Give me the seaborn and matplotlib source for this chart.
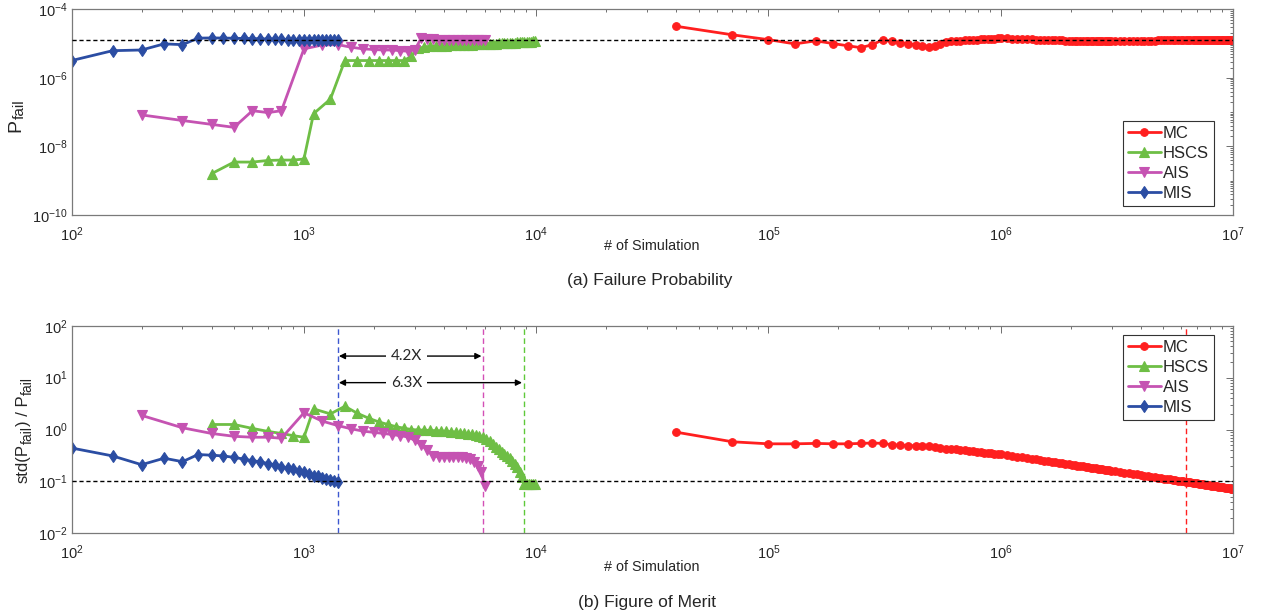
import numpy as np
import pandas as pd
import matplotlib
matplotlib.use("Agg")
import matplotlib.pyplot as plt
from matplotlib import font_manager
from matplotlib.ticker import LogLocator, NullFormatter
import seaborn as sns

# ---------------- data ----------------
series_names = ["MC", "HSCS", "AIS", "MIS"]

mis_n = list(range(100, 1401, 50))
mis_pfail = [3.2e-6, 6.2e-6, 6.5e-6, 9.8e-6, 9.3e-6, 1.44e-5, 1.46e-5, 1.45e-5, 1.43e-5,
             1.41e-5, 1.40e-5, 1.38e-5, 1.36e-5, 1.34e-5, 1.32e-5, 1.31e-5, 1.30e-5,
             1.29e-5, 1.28e-5, 1.27e-5, 1.27e-5, 1.27e-5, 1.28e-5, 1.28e-5, 1.28e-5,
             1.29e-5, 1.29e-5]
mis_fom = [0.44, 0.31, 0.21, 0.28, 0.24, 0.33, 0.32, 0.31, 0.29, 0.27, 0.25, 0.24, 0.22,
           0.21, 0.19, 0.18, 0.17, 0.16, 0.15, 0.14, 0.13, 0.125, 0.118, 0.112, 0.107,
           0.103, 0.099]

ais_n = [200, 300, 400, 500, 600, 700, 800] + list(range(1000, 6001, 200))
ais_pfail = [8.3e-8, 5.7e-8, 4.4e-8, 3.6e-8, 1.1e-7, 9.7e-8, 1.1e-7,
             7.0e-6, 9.1e-6, 9.3e-6, 7.8e-6, 7.0e-6, 6.7e-6, 6.5e-6, 6.5e-6, 6.2e-6,
             6.0e-6, 6.5e-6, 1.45e-5, 1.40e-5, 1.35e-5, 1.30e-5, 1.27e-5, 1.25e-5,
             1.24e-5, 1.24e-5, 1.25e-5, 1.25e-5, 1.24e-5, 1.24e-5, 1.25e-5, 1.25e-5,
             1.25e-5]
ais_fom = [1.87, 1.08, 0.84, 0.74, 0.71, 0.71, 0.68,
           2.1, 1.45, 1.19, 1.03, 0.93, 0.88, 0.84, 0.80, 0.76, 0.72, 0.62, 0.50, 0.40,
           0.31, 0.30, 0.30, 0.30, 0.30, 0.29, 0.29, 0.28, 0.27, 0.24, 0.20, 0.15, 0.08]

hscs_n = [400, 500, 600, 700, 800, 900, 1000] + list(range(1100, 9901, 200))
hscs_pfail = [1.6e-9, 3.5e-9, 3.5e-9, 3.9e-9, 4.0e-9, 4.0e-9, 4.3e-9,
              9.0e-8, 2.4e-7, 3.2e-6, 3.2e-6, 3.2e-6, 3.2e-6, 3.2e-6, 3.2e-6, 3.2e-6,
              4.3e-6, 7.2e-6, 8.0e-6, 8.3e-6, 8.5e-6, 8.6e-6, 8.7e-6, 8.8e-6, 8.9e-6,
              9.0e-6, 9.1e-6, 9.2e-6, 9.3e-6, 9.4e-6, 9.5e-6, 9.6e-6, 9.7e-6, 9.8e-6,
              9.9e-6, 1.0e-5, 1.01e-5, 1.02e-5, 1.03e-5, 1.04e-5, 1.05e-5, 1.06e-5,
              1.07e-5, 1.08e-5, 1.09e-5, 1.10e-5, 1.11e-5, 1.12e-5, 1.13e-5, 1.14e-5,
              1.15e-5, 1.16e-5]
hscs_fom = [1.25, 1.25, 1.05, 0.92, 0.84, 0.76, 0.71,
            2.5, 2.0, 2.8, 2.05, 1.65, 1.4, 1.25, 1.13, 1.06, 1.0,
            0.98, 0.97, 0.96, 0.95, 0.94, 0.92, 0.91, 0.89, 0.87, 0.85,
            0.83, 0.81, 0.78, 0.75, 0.71, 0.65, 0.59, 0.53, 0.47, 0.42,
            0.37, 0.34, 0.31, 0.28, 0.25, 0.22, 0.19, 0.15, 0.12, 0.09,
            0.09, 0.09, 0.09, 0.09, 0.09]

mc_n = (list(range(40000, 1000001, 30000)) + list(range(1060000, 3000001, 60000))
        + list(range(3100000, 10000001, 150000)))
mc_pfail = [3.2e-5, 1.8e-5, 1.3e-5, 9.8e-6, 1.2e-5, 1.0e-5, 8.6e-6, 7.6e-6, 9.3e-6,
            1.28e-5, 1.15e-5, 1.05e-5, 9.9e-6, 9.2e-6, 8.5e-6, 7.9e-6, 8.7e-6, 1.0e-5,
            1.08e-5, 1.15e-5, 1.2e-5, 1.22e-5, 1.25e-5, 1.27e-5, 1.29e-5, 1.31e-5,
            1.33e-5, 1.35e-5, 1.36e-5, 1.38e-5, 1.40e-5, 1.42e-5, 1.45e-5,
            # 1.06e6 .. 2.98e6
            1.42e-5, 1.40e-5, 1.38e-5, 1.36e-5, 1.35e-5, 1.33e-5, 1.31e-5, 1.30e-5,
            1.28e-5, 1.27e-5, 1.26e-5, 1.25e-5, 1.24e-5, 1.23e-5, 1.22e-5, 1.21e-5,
            1.20e-5, 1.20e-5, 1.19e-5, 1.19e-5, 1.18e-5, 1.18e-5, 1.17e-5, 1.17e-5,
            1.17e-5, 1.16e-5, 1.16e-5, 1.16e-5, 1.16e-5, 1.15e-5, 1.15e-5, 1.15e-5,
            1.15e-5,
            # 3.1e6 .. 1e7
            1.15e-5, 1.15e-5, 1.16e-5, 1.16e-5, 1.17e-5, 1.18e-5, 1.19e-5, 1.20e-5,
            1.21e-5, 1.22e-5, 1.22e-5, 1.23e-5, 1.23e-5, 1.24e-5, 1.24e-5, 1.25e-5,
            1.25e-5, 1.25e-5, 1.26e-5, 1.26e-5, 1.27e-5, 1.26e-5, 1.26e-5, 1.27e-5,
            1.26e-5, 1.25e-5, 1.26e-5, 1.26e-5, 1.27e-5, 1.27e-5, 1.26e-5, 1.26e-5,
            1.27e-5, 1.27e-5, 1.26e-5, 1.26e-5, 1.27e-5, 1.27e-5, 1.27e-5, 1.26e-5,
            1.26e-5, 1.27e-5, 1.27e-5, 1.27e-5, 1.27e-5, 1.27e-5, 1.27e-5]
mc_fom = [0.89, 0.58, 0.53, 0.53, 0.54, 0.53, 0.53, 0.54, 0.55, 0.54, 0.51, 0.50, 0.49,
          0.486, 0.48, 0.475, 0.47, 0.45, 0.43, 0.43, 0.42, 0.41, 0.40, 0.39, 0.38,
          0.375, 0.37, 0.36, 0.355, 0.35, 0.345, 0.34, 0.335,
          # 1.06e6 .. 2.98e6
          0.322, 0.311, 0.300, 0.290, 0.281, 0.273, 0.265, 0.258, 0.251, 0.245, 0.239,
          0.233, 0.228, 0.223, 0.218, 0.214, 0.210, 0.206, 0.202, 0.198, 0.194, 0.191,
          0.188, 0.185, 0.182, 0.179, 0.176, 0.174, 0.171, 0.169, 0.166, 0.164, 0.162,
          # 3.1e6 .. 1e7
          0.157, 0.153, 0.148, 0.144, 0.140, 0.136, 0.133, 0.130, 0.127, 0.124, 0.121,
          0.1185, 0.116, 0.1138, 0.1116, 0.1094, 0.1075, 0.1056, 0.1037, 0.102, 0.1003,
          0.0987, 0.0971, 0.0956, 0.0942, 0.0928, 0.0915, 0.0902, 0.0890, 0.0878,
          0.0866, 0.0855, 0.0844, 0.0833, 0.0823, 0.0813, 0.0804, 0.0794, 0.0785,
          0.0777, 0.0768, 0.0760, 0.0752, 0.0744, 0.0736, 0.0729, 0.0721]

pfail_target = 1.3e-5
fom_target = 0.1
vlines_n = [1400, 5900, 8820, 6.3e6]
speedup_labels = ["4.2X", "6.3X"]
speedup_y = [26, 8.0]
speedup_end = [5900, 8820]

# ---------------- style ----------------
sns.set_theme(style="white")


def has_font(name):
    try:
        font_manager.findfont(name, fallback_to_default=False)
        return True
    except Exception:
        return False


base_font = "Liberation Sans" if has_font("Liberation Sans") else "DejaVu Sans"
plt.rcParams["font.family"] = [base_font, "DejaVu Sans"]
plt.rcParams["mathtext.fontset"] = "custom"
plt.rcParams["mathtext.rm"] = base_font
plt.rcParams["mathtext.it"] = base_font + ":italic"
plt.rcParams["mathtext.bf"] = base_font + ":bold"

colors = {"MC": "#ff1f1f", "HSCS": "#6ebe45", "AIS": "#c553b2", "MIS": "#2b4da3"}
markers = {"MC": "o", "HSCS": "^", "AIS": "v", "MIS": "d"}
msizes = {"MC": 5.5, "HSCS": 6.5, "AIS": 6.5, "MIS": 6.5}
vcolors = ["#3d57d0", "#d34fb6", "#5fc93a", "#ff2020"]

W, H = 1262, 615
fig = plt.figure(figsize=(W / 100, H / 100), dpi=100)
ax1 = fig.add_axes([0.0568, 0.6504, 0.9202, 0.3345])
ax2 = fig.add_axes([0.0568, 0.1328, 0.9202, 0.3376])

top_data = {"MC": (mc_n, mc_pfail), "HSCS": (hscs_n, hscs_pfail),
            "AIS": (ais_n, ais_pfail), "MIS": (mis_n, mis_pfail)}
bot_data = {"MC": (mc_n, mc_fom), "HSCS": (hscs_n, hscs_fom),
            "AIS": (ais_n, ais_fom), "MIS": (mis_n, mis_fom)}

for ax, dd in ((ax1, top_data), (ax2, bot_data)):
    for name in series_names:
        n, v = dd[name]
        df = pd.DataFrame({"n": n, "v": v})
        sns.lineplot(data=df, x="n", y="v", ax=ax, color=colors[name], marker=markers[name],
                     markersize=msizes[name], markeredgecolor=colors[name],
                     markerfacecolor=colors[name], markeredgewidth=0.8, linewidth=2.0,
                     label=name, estimator=None, sort=False)

ax1.axhline(pfail_target, color="black", lw=1.0, ls=(0, (3, 2)), zorder=5)
ax2.axhline(fom_target, color="black", lw=1.0, ls=(0, (3, 2)), zorder=5)
for xv, c in zip(vlines_n, vcolors):
    ax2.axvline(xv, color=c, lw=1.0, ls=(0, (4, 2.5)), zorder=1)

for lab, yv, xe in zip(speedup_labels, speedup_y, speedup_end):
    ax2.annotate("", xy=(xe * 0.985, yv), xytext=(vlines_n[0] * 1.01, yv),
                 arrowprops=dict(arrowstyle="<|-|>", color="black", lw=1.0,
                                 mutation_scale=9, shrinkA=0, shrinkB=0))
    ax2.text(2775, yv, lab, ha="center", va="center", fontsize=11,
             family=["Lato", "DejaVu Sans"],
             bbox=dict(facecolor="white", edgecolor="none", pad=3.5), zorder=6)

for ax in (ax1, ax2):
    ax.set_xscale("log")
    ax.set_yscale("log")
    ax.set_xlim(1e2, 1e7)
    ax.xaxis.set_major_locator(LogLocator(base=10, numticks=20))
    ax.xaxis.set_minor_locator(LogLocator(base=10, subs=np.arange(2, 10), numticks=100))
    ax.xaxis.set_minor_formatter(NullFormatter())
    ax.yaxis.set_minor_formatter(NullFormatter())
    ax.tick_params(which="both", direction="in", top=True, right=True,
                   color="#6e6e6e", labelcolor="#262626", labelsize=10.5, width=0.7)
    ax.tick_params(which="major", length=5)
    ax.tick_params(axis="x", which="major", pad=7.5)
    ax.tick_params(axis="y", which="major", pad=3)
    ax.tick_params(which="minor", length=2.5)
    for sp in ax.spines.values():
        sp.set_color("#7a7a7a")
        sp.set_linewidth(0.9)
    ax.set_xlabel("")
    ax.set_ylabel("")

ax1.set_ylim(1e-10, 1e-4)
ax1.set_yticks([1e-10, 1e-8, 1e-6, 1e-4])
ax1.yaxis.set_minor_locator(LogLocator(base=10, subs=np.arange(1, 10), numticks=100))
ax2.set_ylim(1e-2, 1e2)
ax2.yaxis.set_major_locator(LogLocator(base=10, numticks=20))
ax2.yaxis.set_minor_locator(LogLocator(base=10, subs=np.arange(2, 10), numticks=100))

leg_kw = dict(frameon=True, fancybox=False, edgecolor="#333333", framealpha=1,
              prop={"family": base_font, "size": 12}, handlelength=2.0,
              handletextpad=0.12, labelspacing=0.3, borderpad=0.3, borderaxespad=0)
l1 = ax1.legend(loc="lower right", bbox_to_anchor=(0.9836, 0.044), **leg_kw)
l2 = ax2.legend(loc="upper right", bbox_to_anchor=(0.9836, 0.955), **leg_kw)
for lg in (l1, l2):
    lg.get_frame().set_linewidth(0.8)

fig.text(0.5166, 1 - 246 / H, "# of Simulation", ha="center", va="center", fontsize=10.4)
fig.text(0.5166, 1 - 567 / H, "# of Simulation", ha="center", va="center", fontsize=10.4)
fig.text(0.515, 1 - 281 / H, "(a) Failure Probability", ha="center", va="center", fontsize=12.5)
fig.text(0.513, 1 - 603 / H, "(b) Figure of Merit", ha="center", va="center", fontsize=12.5)

# rotated y-labels built from pieces (subscripts almost full size, like the reference)
renderer = fig.canvas.get_renderer()


def rotated_label(x_base, y_center, pieces):
    widths = []
    for s, fs, dx in pieces:
        t = fig.text(0, 0, s, fontsize=fs)
        widths.append(t.get_window_extent(renderer).width)
        t.remove()
    y = y_center - sum(widths) / 2
    for (s, fs, dx), w in zip(pieces, widths):
        fig.text((x_base + dx) / W, y / H, s, fontsize=fs, rotation=90,
                 rotation_mode="anchor", ha="left", va="baseline")
        y += w


rotated_label(20, H - 116, [("P", 14, 0), ("fail", 11, 4)])
rotated_label(28, H - 430, [("std(P", 12, 0), ("fail", 10, 4), (") / P", 12, 0),
                            ("fail", 10, 4)])

fig.savefig("out.png", dpi=100, facecolor="white")
